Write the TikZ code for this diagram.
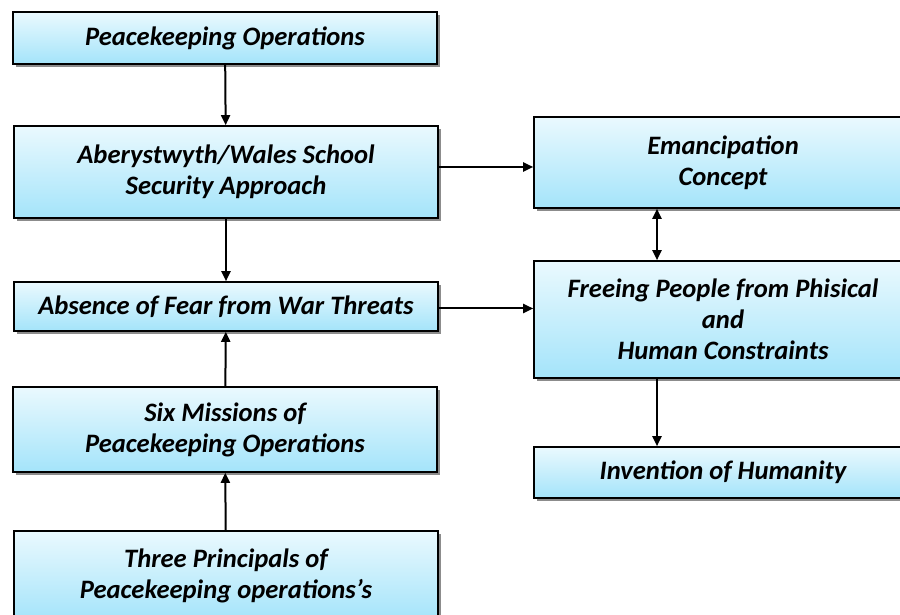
\documentclass[tikz,border=0pt]{standalone}
\usepackage{fontspec}
\setmainfont{Carlito}
\usepackage{tikz}
\usetikzlibrary{arrows.meta,shadows}
\definecolor{boxtop}{HTML}{EAF9FE}
\definecolor{boxbottom}{HTML}{A4E4FA}

\begin{document}
\begin{tikzpicture}
[
    x = 0.5pt, y = 0.5pt,
    box/.style = {draw, line width = 0.8pt, align = center, inner sep = 2pt,
        top color = boxtop, bottom color = boxbottom,
        drop shadow = {shadow xshift = 1.5pt, shadow yshift = -1.5pt, fill = black!45, opacity = 1},
        font = \fontsize{13.3}{15.5}\selectfont\bfseries\itshape},
    leftbox/.style = {box, minimum width = 212pt},
    rightbox/.style = {box, minimum width = 189pt},
    link/.style = {line width = 1pt, -{Triangle[length = 5pt, width = 4.5pt]}},
    twoway/.style = {line width = 1pt, {Triangle[length = 5pt, width = 4.5pt]}-{Triangle[length = 5pt, width = 4.5pt]}},
]
    \useasboundingbox (0,0) rectangle (900,615);
    \node[leftbox, minimum height = 26pt] (peace) at (225,577) {Peacekeeping Operations};
    \node[leftbox, minimum height = 46pt] (aber) at (226,443) {Aberystwyth/Wales School\\Security Approach};
    \node[leftbox, minimum height = 24.5pt] (fear) at (226,308.5) {Absence of Fear from War Threats};
    \node[leftbox, minimum height = 42.5pt] (missions) at (225,185.5) {Six Missions of\\Peacekeeping Operations};
    \node[leftbox, minimum height = 45pt] (principals) at (226,39) {Three Principals of\\Peacekeeping operations's};
    \node[rightbox, minimum height = 45.5pt] (eman) at (723,452.5) {Emancipation\\Concept};
    \node[rightbox, minimum height = 58.5pt] (freeing) at (723,295.5) {Freeing People from Phisical\\and\\Human Constraints};
    \node[rightbox, minimum height = 25.5pt] (humanity) at (723,142.5) {Invention of Humanity};

    \draw[link] (peace) -- (aber);
    \draw[link] (aber) -- (fear);
    \draw[link] (missions) -- (fear);
    \draw[link] (principals) -- (missions);
    \draw[link] ([yshift = 2.5pt]aber.east) -- ([yshift = 2.5pt]aber.east -| eman.west);
    \draw[link] ([yshift = -1pt]fear.east) -- ([yshift = -1pt]fear.east -| freeing.west);
    \draw[twoway] ([xshift = -33pt]eman.south) -- ([xshift = -33pt]eman.south |- freeing.north);
    \draw[link] ([xshift = -33pt]freeing.south) -- ([xshift = -33pt]freeing.south |- humanity.north);
\end{tikzpicture}
\end{document}
